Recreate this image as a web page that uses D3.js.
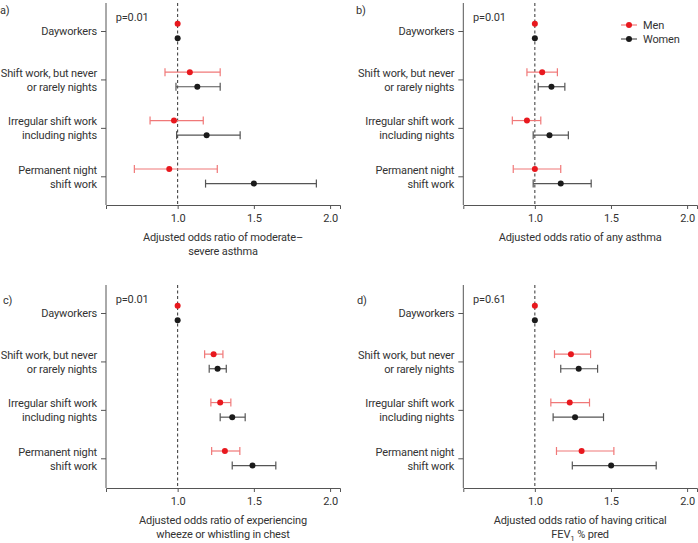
<!DOCTYPE html>
<html><head><meta charset="utf-8">
<script src="https://cdn.jsdelivr.net/npm/d3@7"></script>
<style>
html,body{margin:0;padding:0;background:#fff;}
text{font-family:"Roboto",sans-serif;fill:#333;letter-spacing:-0.15px;}
</style></head>
<body>
<svg id="chart" width="698" height="543"></svg>
<script>
const categories = ["Dayworkers", "Shift work, but never\nor rarely nights", "Irregular shift work\nincluding nights", "Permanent night\nshift work"];
const seriesNames = ["Men", "Women"];
const xTicks = [1.0, 1.5, 2.0];

// panel a: moderate-severe asthma
const aMenOR = [1.0, 1.08, 0.976, 0.945];
const aMenLo = [1.0, 0.917, 0.819, 0.716];
const aMenHi = [1.0, 1.279, 1.168, 1.26];
const aWomenOR = [1.0, 1.129, 1.19, 1.5];
const aWomenLo = [1.0, 0.989, 0.993, 1.183];
const aWomenHi = [1.0, 1.279, 1.41, 1.91];

// panel b: any asthma
const bMenOR = [1.0, 1.048, 0.948, 1.0];
const bMenLo = [1.0, 0.948, 0.852, 0.858];
const bMenHi = [1.0, 1.148, 1.039, 1.17];
const bWomenOR = [1.0, 1.109, 1.096, 1.17];
const bWomenLo = [1.0, 1.022, 0.989, 0.989];
const bWomenHi = [1.0, 1.197, 1.22, 1.37];

// panel c: wheeze
const cMenOR = [1.0, 1.236, 1.279, 1.31];
const cMenLo = [1.0, 1.177, 1.218, 1.223];
const cMenHi = [1.0, 1.297, 1.349, 1.408];
const cWomenOR = [1.0, 1.262, 1.358, 1.491];
const cWomenLo = [1.0, 1.207, 1.279, 1.358];
const cWomenHi = [1.0, 1.319, 1.443, 1.644];

// panel d: critical FEV1
const dMenOR = [1.0, 1.237, 1.229, 1.307];
const dMenLo = [1.0, 1.129, 1.105, 1.142];
const dMenHi = [1.0, 1.366, 1.359, 1.519];
const dWomenOR = [1.0, 1.288, 1.264, 1.501];
const dWomenLo = [1.0, 1.17, 1.12, 1.246];
const dWomenHi = [1.0, 1.412, 1.451, 1.797];

const panelLetters = ["a)", "b)", "c)", "d)"];
const pValues = ["p=0.01", "p=0.01", "p=0.01", "p=0.61"];
const axisTitles = [
  ["Adjusted odds ratio of moderate\u2013", "severe asthma"],
  ["Adjusted odds ratio of any asthma"],
  ["Adjusted odds ratio of experiencing", "wheeze or whistling in chest"],
  ["Adjusted odds ratio of having critical", "FEV1 % pred"]
];

const panelsData = [
  {men:[aMenOR,aMenLo,aMenHi], women:[aWomenOR,aWomenLo,aWomenHi]},
  {men:[bMenOR,bMenLo,bMenHi], women:[bWomenOR,bWomenLo,bWomenHi]},
  {men:[cMenOR,cMenLo,cMenHi], women:[cWomenOR,cWomenLo,cWomenHi]},
  {men:[dMenOR,dMenLo,dMenHi], women:[dWomenOR,dWomenLo,dWomenHi]}
];

const layout = [
  {left:106, top:3, right:340, bottom:205},
  {left:463.3, top:3, right:697, bottom:205},
  {left:106, top:285, right:340, bottom:488},
  {left:463.3, top:285, right:697, bottom:488}
];
const letterPos = [[0,10],[356,10],[3,300.5],[357,300.5]];

const menDot = "#e8181e", menLine = "#f07878";
const womenDot = "#1b1b1b", womenLine = "#555555";
const axisCol = "#555";
const FONT = '"Roboto",sans-serif';

const svg = d3.select("#chart");

panelsData.forEach((pd, i) => {
  const L = layout[i];
  const g = svg.append("g");
  const x = d3.scaleLinear().domain([0.53, 2.065]).range([L.left, L.right]);
  const y = d3.scalePoint().domain(categories).range([L.top + 28, L.top + 173.3]);
  const off = 7.3;

  // dashed reference line
  g.append("line").attr("x1", x(1)).attr("x2", x(1))
    .attr("y1", L.top).attr("y2", L.bottom)
    .attr("stroke", "#333").attr("stroke-width", 1).attr("stroke-dasharray", "3,2.5");

  // x axis
  const xa = g.append("g").attr("transform", `translate(0,${L.bottom})`)
    .call(d3.axisBottom(x).tickValues(xTicks).tickFormat(d3.format(".1f")).tickSizeOuter(0).tickSize(4).tickPadding(5));
  xa.select(".domain").attr("stroke", axisCol);
  xa.selectAll(".tick line").attr("stroke", axisCol);
  xa.selectAll(".tick text").attr("font-size", 11).attr("fill", "#333").attr("font-family", FONT);

  // y axis
  const ya = g.append("g").attr("transform", `translate(${L.left},0)`)
    .call(d3.axisLeft(y).tickSize(5).tickSizeOuter(0).tickFormat(""));
  ya.select(".domain").attr("stroke", axisCol).attr("d", `M0,${L.top}V${L.bottom}`);
  ya.selectAll(".tick line").attr("stroke", axisCol);
  ya.selectAll(".tick").each(function(d) {
    const lines = d.split("\n");
    const t = d3.select(this).append("text")
      .attr("x", -9).attr("text-anchor", "end").attr("font-size", 11).attr("fill", "#333")
      .attr("font-family", FONT);
    const n = lines.length;
    lines.forEach((ln, k) => {
      t.append("tspan").attr("x", -9).attr("y", (k - (n - 1) / 2) * 14).attr("dy", "0.35em").text(ln);
    });
  });

  // series
  const drawSeries = (arr, dy, lineCol, dotCol) => {
    const [or, lo, hi] = arr;
    categories.forEach((c, j) => {
      const yy = y(c) + dy;
      if (hi[j] !== lo[j]) {
        g.append("line").attr("x1", x(lo[j])).attr("x2", x(hi[j])).attr("y1", yy).attr("y2", yy)
          .attr("stroke", lineCol).attr("stroke-width", 1.2);
        [lo[j], hi[j]].forEach(v => {
          g.append("line").attr("x1", x(v)).attr("x2", x(v)).attr("y1", yy - 4).attr("y2", yy + 4)
            .attr("stroke", lineCol).attr("stroke-width", 1.2);
        });
      }
      g.append("circle").attr("cx", x(or[j])).attr("cy", yy).attr("r", 3).attr("fill", dotCol);
    });
  };
  drawSeries(pd.men, -off, menLine, menDot);
  drawSeries(pd.women, off, womenLine, womenDot);

  // p value
  g.append("text").attr("x", L.left + 9.7).attr("y", L.top + 14.3).attr("dy", "0.35em")
    .attr("font-size", 11).text(pValues[i]);

  // panel letter
  svg.append("text").attr("x", letterPos[i][0]).attr("y", letterPos[i][1]).attr("dy", "0.35em")
    .attr("font-size", 11).text(panelLetters[i]);

  // axis title
  const cx = (L.left + L.right) / 2;
  axisTitles[i].forEach((ln, k) => {
    const t = g.append("text").attr("x", cx).attr("y", L.bottom + 32.5 + k * 13.5).attr("dy", "0.35em")
      .attr("text-anchor", "middle").attr("font-size", 11);
    if (ln.startsWith("FEV1")) {
      t.append("tspan").text("FEV");
      t.append("tspan").attr("font-size", 8).attr("dy", "3").text("1");
      t.append("tspan").attr("dy", "-3").text(" % pred");
    } else {
      t.text(ln);
    }
  });
});

// legend
const legend = svg.append("g");
const legItems = [{name: seriesNames[0], line: menLine, dot: menDot, y: 25}, {name: seriesNames[1], line: womenLine, dot: womenDot, y: 39}];
legItems.forEach(it => {
  legend.append("line").attr("x1", 621).attr("x2", 637).attr("y1", it.y).attr("y2", it.y)
    .attr("stroke", it.line).attr("stroke-width", 1.2);
  legend.append("circle").attr("cx", 629).attr("cy", it.y).attr("r", 3).attr("fill", it.dot);
  legend.append("text").attr("x", 643).attr("y", it.y).attr("dy", "0.35em").attr("font-size", 11).text(it.name);
});
</script>
</body></html>
